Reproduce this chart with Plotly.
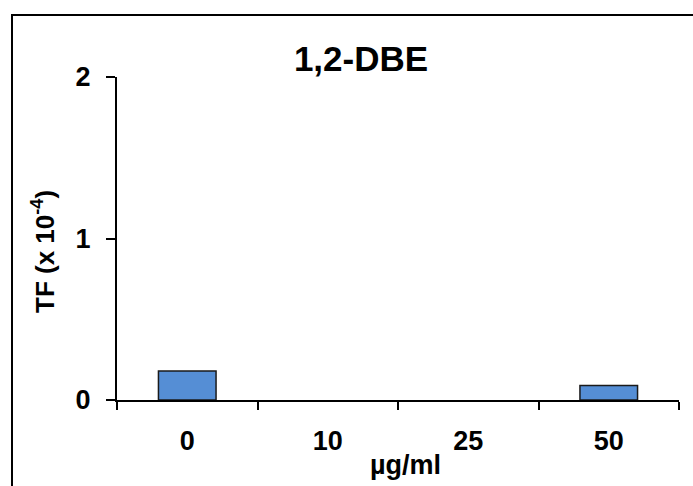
import plotly.graph_objects as go

# Concentrations (categories) and transformation frequency values (x 10^-4)
concentrations = ["0", "10", "25", "50"]
tf_values = [0.18, 0.0, 0.0, 0.09]
y_ticks = [0, 1, 2]
y_tick_text = ["0", "1", "2"]

FONT = "Arial, Liberation Sans, sans-serif"
W, H = 693, 486
L, R, T, B = 117, 14, 77, 86
plot_w = W - L - R
plot_h = H - T - B


def px_to_paper_x(px):
    return (px - L) / plot_w


def px_to_paper_y(py):
    return (H - B - py) / plot_h


# outline only on bars with a non-zero height
outline_widths = [1.5 if v > 0 else 0 for v in tf_values]

fig = go.Figure(
    go.Bar(
        x=concentrations,
        y=tf_values,
        width=0.41,
        marker=dict(color="#558ED5", line=dict(color="#1a1a1a", width=outline_widths)),
        hoverinfo="x+y",
    )
)

fig.update_layout(
    width=W,
    height=H,
    margin=dict(l=L, r=R, t=T, b=B),
    paper_bgcolor="white",
    plot_bgcolor="white",
    showlegend=False,
    font=dict(family=FONT, color="black"),
    title=dict(
        text="<b>1,2-DBE</b>",
        font=dict(family=FONT, size=35, color="black"),
        x=px_to_paper_x(361),
        xref="paper",
        xanchor="center",
        y=1 - 59 / H,
        yref="container",
        yanchor="middle",
    ),
    xaxis=dict(
        type="category",
        showline=True,
        linecolor="black",
        linewidth=2,
        ticks="outside",
        tickson="boundaries",
        ticklen=8,
        tickwidth=2,
        tickcolor="black",
        showgrid=False,
        zeroline=False,
        tickfont=dict(family=FONT, size=27, color="black", weight="bold"),
        ticklabelstandoff=16,
    ),
    yaxis=dict(
        range=[0, 2],
        tickmode="array",
        tickvals=y_ticks,
        ticktext=y_tick_text,
        showline=True,
        linecolor="black",
        linewidth=2,
        ticks="outside",
        ticklen=9,
        tickwidth=2,
        tickcolor="black",
        showgrid=False,
        zeroline=False,
        tickfont=dict(family=FONT, size=27, color="black", weight="bold"),
        ticklabelstandoff=10,
    ),
    shapes=[
        # outer chart frame
        dict(
            type="rect",
            xref="paper",
            yref="paper",
            x0=px_to_paper_x(12),
            x1=px_to_paper_x(W + 20),
            y0=px_to_paper_y(H + 20),
            y1=px_to_paper_y(15),
            line=dict(color="black", width=2),
            fillcolor="rgba(0,0,0,0)",
            layer="below",
        )
    ],
    annotations=[
        dict(
            text="<b>µg/ml</b>",
            xref="paper",
            yref="paper",
            x=px_to_paper_x(405),
            y=px_to_paper_y(465),
            xanchor="center",
            yanchor="middle",
            showarrow=False,
            font=dict(family=FONT, size=27, color="black"),
        ),
        dict(
            text="<b>TF (x 10<sup>-4</sup>)</b>",
            xref="paper",
            yref="paper",
            x=px_to_paper_x(43),
            y=px_to_paper_y(252),
            xanchor="center",
            yanchor="middle",
            textangle=-90,
            showarrow=False,
            font=dict(family=FONT, size=26, color="black"),
        ),
    ],
)

fig.write_html("out.html")
